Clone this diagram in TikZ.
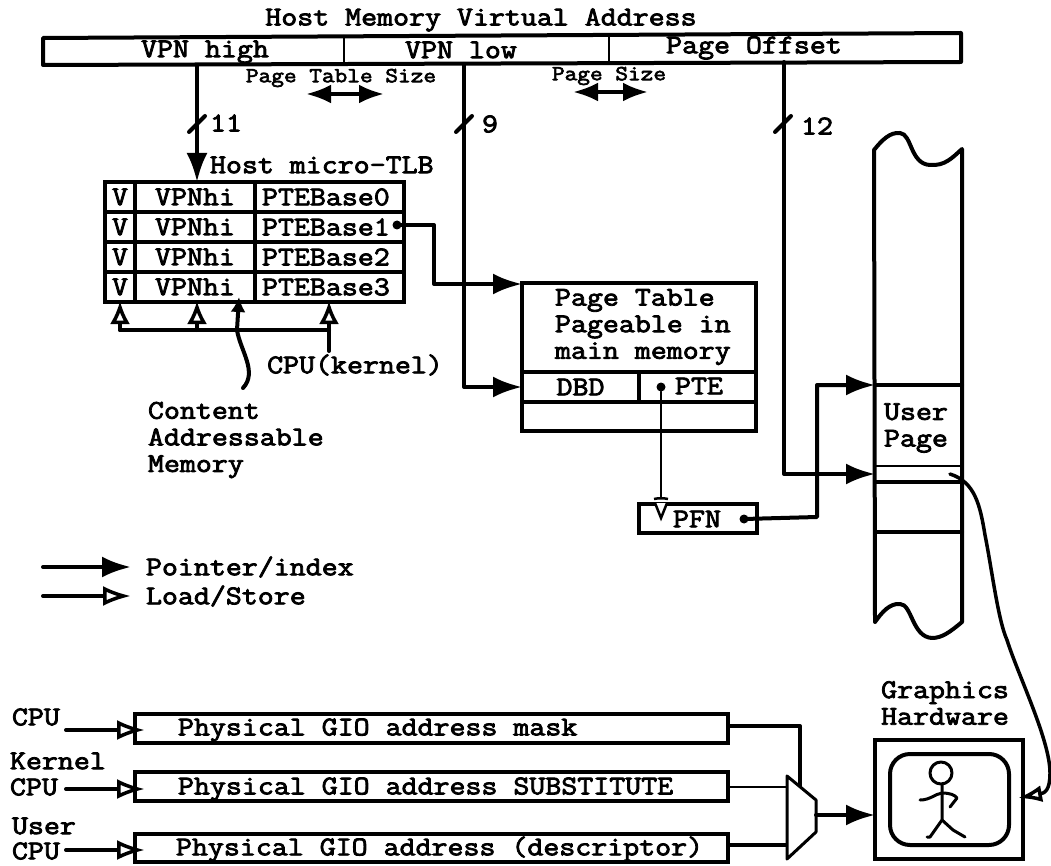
\documentclass[tikz,border=0pt]{standalone}
\usepackage{fontspec}
\usetikzlibrary{arrows.meta,calc}
\newfontfamily\courfam{Latin Modern Mono}[FakeBold=3,FakeStretch=1.145]
\newcommand{\lab}{\courfam\fontsize{27.09}{26.6}\selectfont}
\newcommand{\smlab}{\courfam\fontsize{21.5}{22}\selectfont}
\tikzset{
  x=1pt,y=-1pt,
  every node/.style={inner sep=0pt,outer sep=0pt},
  txt/.style={font=\lab,align=left},
  smtxt/.style={font=\smlab},
  cell/.style={draw,line width=4pt,anchor=north west,font=\lab,align=center},
  line/.style={line width=4pt,line join=round,line cap=round},
  thinline/.style={line width=2pt,line cap=round},
  ptr/.style={line,-{Latex[length=29pt,width=21pt]}},
  load/.style={line,-{Latex[open,fill=white,length=28pt,width=20pt,line width=3.5pt]}},
  upload/.style={line,-{Latex[open,fill=white,length=23pt,width=20pt,line width=3.5pt]}},
  dbl/.style={line,{Latex[length=25pt,width=19pt]}-{Latex[length=25pt,width=19pt]}},
  dotpt/.style={circle,fill=black,minimum size=9pt},
}
\newcommand{\cellbox}[6]{\node[cell,minimum width=#4 pt,minimum height=#5 pt] (#1) at (#2,#3) {#6};}
\begin{document}
\begin{tikzpicture}
\useasboundingbox (0,0) rectangle (1051,866);
% ---- top address bar
\node[txt] (title) at (481,20) {Host Memory Virtual Address};
\coordinate (ba) at (43,38); \coordinate (bb) at (961,33);
\coordinate (bc) at (961,62); \coordinate (bd) at (43,65);
\coordinate (d1a) at (344,36); \coordinate (d1b) at (344,64);
\coordinate (d2a) at (609,35); \coordinate (d2b) at (609,63);
\draw[line] (ba) -- (bb) -- (bc) -- (bd) -- cycle;
\draw[line,line width=2.5pt] (d1a) -- (d1b);
\draw[line,line width=2.5pt] (d2a) -- (d2b);
\node[txt] (vhight) at (205,52) {VPN high};
\node[txt] (vlowt) at (461,50) {VPN low};
\node[txt] (vofft) at (754,48) {Page Offset};
\node[smtxt] (ptsize) at (341,78) {Page Table Size};
\node[smtxt] (psize) at (609,76) {Page Size};
\coordinate (pa) at (306,94); \coordinate (pb) at (384,94);
\coordinate (qa) at (573,92); \coordinate (qb) at (648,92);
\draw[dbl] (pa) -- (pb);
\draw[dbl] (qa) -- (qb);
% ---- micro-TLB
\node[txt,anchor=west] (tlbt) at (210,165) {Host micro-TLB};
\foreach \r/\y/\t in {0/182/0,1/212/1,2/242/2,3/272/3}{
  \cellbox{v\r}{105}{\y}{30}{30}{V}
  \cellbox{h\r}{135}{\y}{120}{30}{VPNhi}
  \cellbox{b\r}{255}{\y}{149}{30}{}
  \node[txt,anchor=west] (bt\r) at (262,\y+15) {PTEBase\t};
}
% ---- bit-width connectors
\coordinate (s1a) at (189,132); \coordinate (s1b) at (205,116);
\coordinate (s2a) at (456,132); \coordinate (s2b) at (472,116);
\coordinate (s3a) at (775,132); \coordinate (s3b) at (791,116);
\draw[line] (s1a) -- (s1b);
\draw[line] (s2a) -- (s2b);
\draw[line] (s3a) -- (s3b);
\node[txt] (n11) at (226,123) {11};
\node[txt] (n9) at (490,124) {9};
\node[txt] (n12) at (817,126) {12};
\coordinate (vh) at (197,65); \coordinate (tlbin) at (197,182);
\draw[ptr] (vh) -- (tlbin);
% ---- page table
\cellbox{pt}{522}{283}{234}{89}{}
\cellbox{dbd}{522}{372}{117}{30}{DBD}
\cellbox{pte}{639}{372}{117}{30}{}
\cellbox{ptl}{522}{402}{234}{29}{}
\node[txt] (ptet) at (699,386) {PTE};
\node[txt,anchor=west] (ptt) at (555,327) {Page Table\\Pageable in\\main memory};
\node[dotpt] (ptedot) at (661,387) {};
\node[dotpt] (b1dot) at (397,225) {};
% ---- PFN
\cellbox{pfn}{639}{504}{118}{29}{}
\node[txt] (pfnt) at (697,519) {PFN};
\node[dotpt] (pfndot) at (744,519) {};
\coordinate (pfntip) at (661,518);
\coordinate (pfnl) at (655,503); \coordinate (pfnr) at (667,503);
\fill[white] (pfnl) -- (pfntip) -- (pfnr) -- cycle;
\draw[line width=2.5pt,line join=miter] (pfnl) -- (pfntip) -- (pfnr);
\coordinate (bar) at (661,497);
\draw[thinline] (ptedot) -- (bar);
\draw[line width=2.5pt] ($(bar)+(-7,2)$) .. controls ($(bar)+(-3,1)$) and ($(bar)+(3,1)$) .. ($(bar)+(7,2)$);
% ---- memory column
\coordinate (ml) at (874,150); \coordinate (mr) at (962,149);
\coordinate (mbl) at (875,622); \coordinate (mbr) at (962,622);
\draw[line] (mbl) -- (ml)
  .. controls (882,140) and (890,132) .. (900,133)
  .. controls (912,134) and (910,164) .. (930,165)
  .. controls (945,166) and (952,158) .. (962,149)
  -- (mbr)
  .. controls (950,632) and (942,638) .. (932,638)
  .. controls (912,637) and (912,604) .. (900,604)
  .. controls (890,603) and (882,612) .. (875,622);
\node[txt,align=left,anchor=west] (up) at (884,428) {User\\Page};
\coordinate (m1l) at (875,385); \coordinate (m1r) at (962,385);
\coordinate (m2l) at (875,466); \coordinate (m2r) at (962,466);
\coordinate (m3l) at (875,482); \coordinate (m3r) at (962,482);
\coordinate (m4l) at (875,532); \coordinate (m4r) at (962,532);
\coordinate (mpo) at (875,474);
\draw[line] (m1l) -- (m1r);
\draw[line,line width=2.5pt] (m2l) -- (m2r);
\draw[line] (m3l) -- (m3r);
\draw[line] (m4l) -- (m4r);
% ---- pointers
\coordinate (vl) at (464,64); \coordinate (vo) at (784,62);
\coordinate (ptin) at (522,284);
\draw[ptr] (b1dot) -- (434,225) -- (434,284) -- (ptin);
\draw[ptr] (vl) -- (464,387) -- (dbd.west);
\draw[ptr] (vo) -- (784,474) -- (mpo);
\draw[ptr] (pfndot) -- (817,517) -- (817,385) -- (m1l);
% ---- load/store bus
\coordinate (c1) at (120,330); \coordinate (c2) at (197,330);
\coordinate (c3) at (329,330); \coordinate (c4) at (237,330);
\coordinate (cpu) at (329,351);
\draw[line] (c1) -- (c3);
\draw[upload] (c1) -- (120,301);
\draw[upload] (c2) -- (197,301);
\draw[upload] (c3) -- (329,301);
\draw[line,-{Latex[length=15pt,width=15pt]}] (c4) -- (239,297);
\draw[line] (c3) -- (cpu);
\coordinate (cam) at (243,388);
\draw[line] (c4) .. controls (240,350) and (258,372) .. (cam);
\node[txt] (cpuk) at (355,365) {CPU(kernel)};
\node[txt,anchor=west] (camt) at (148,440) {Content\\Addressable\\Memory};
% ---- legend
\coordinate (la) at (43,567); \coordinate (lb) at (131,567);
\coordinate (lc) at (43,596); \coordinate (ld) at (131,596);
\draw[ptr] (la) -- (lb);
\draw[load] (lc) -- (ld);
\node[txt,anchor=west] (l1) at (146,567) {Pointer/index};
\node[txt,anchor=west] (l2) at (146,596) {Load/Store};
% ---- registers
\cellbox{r1}{135}{714}{593}{29}{}
\cellbox{r2}{135}{772}{593}{29}{}
\cellbox{r3}{135}{834}{593}{28}{}
\node[txt,anchor=west] (r1t) at (178,730) {Physical GIO address mask};
\node[txt,anchor=west] (r2t) at (178,789) {Physical GIO address SUBSTITUTE};
\node[txt,anchor=west] (r3t) at (176,849) {Physical GIO address (descriptor)};
\node[txt,anchor=west] (cpu1) at (12,717) {CPU};
\node[txt,anchor=west] (ker) at (10,761) {Kernel};
\node[txt,anchor=west] (cpu2) at (10,787) {CPU};
\node[txt,anchor=west] (usr) at (12,826) {User};
\node[txt,anchor=west] (cpu3) at (12,851) {CPU};
\coordinate (a1) at (66,730); \coordinate (a2) at (66,789); \coordinate (a3) at (66,850);
\coordinate (e1) at (145,730); \coordinate (e2) at (145,789); \coordinate (e3) at (145,850);
\draw[load] (a1) -- (e1);
\draw[load] (a2) -- (e2);
\draw[load] (a3) -- (e3);
% ---- mux and graphics
\coordinate (mxa) at (787,776); \coordinate (mxb) at (816,800);
\coordinate (mxc) at (816,832); \coordinate (mxd) at (787,859);
\coordinate (mxo) at (816,815); \coordinate (gin) at (875,815);
\draw[line] (728,726) -- (800,726) -- (800,787);
\draw[line,line width=2.5pt] (728,787) -- (787,787);
\draw[line] (728,845) -- (787,845);
\filldraw[fill=white,line width=3pt,line join=round] (mxa) -- (mxb) -- (mxc) -- (mxd) -- cycle;
\cellbox{gfx}{875}{740}{148}{119}{}
\node[draw,line width=4pt,anchor=north west,rounded corners=20pt,minimum width=119pt,minimum height=91pt] (scr) at (890,754) {};
\draw[ptr] (mxo) -- (gin);
\node[txt] (gt) at (945,703) {Graphics\\Hardware};
% stick figure
\draw[line,line width=3pt] (941,773) circle[radius=11];
\draw[line,line width=3pt] (942,785) -- (942,820) -- (930,837) -- (927,837);
\draw[line,line width=3pt] (942,820) -- (953,830) -- (965,837);
\draw[line,line width=3pt] (920,800) .. controls (930,800) and (935,794) .. (942,793)
   .. controls (950,793) and (955,795) .. (957,798) -- (950,807);
% write-back curve
\coordinate (wbs) at (950,474);
\coordinate (wbt) at (1018,798);
\draw[line,line width=3.5pt,-{Latex[open,fill=white,length=24pt,width=17pt,line width=3.5pt]}]
  (wbs) .. controls (975,482) and (980,505) .. (985,535)
  .. controls (992,570) and (998,620) .. (1007,640)
  .. controls (1018,675) and (1050,740) .. (1050,773)
  .. controls (1050,790) and (1045,793) .. (1040,794) -- (wbt);
\end{tikzpicture}
\end{document}
